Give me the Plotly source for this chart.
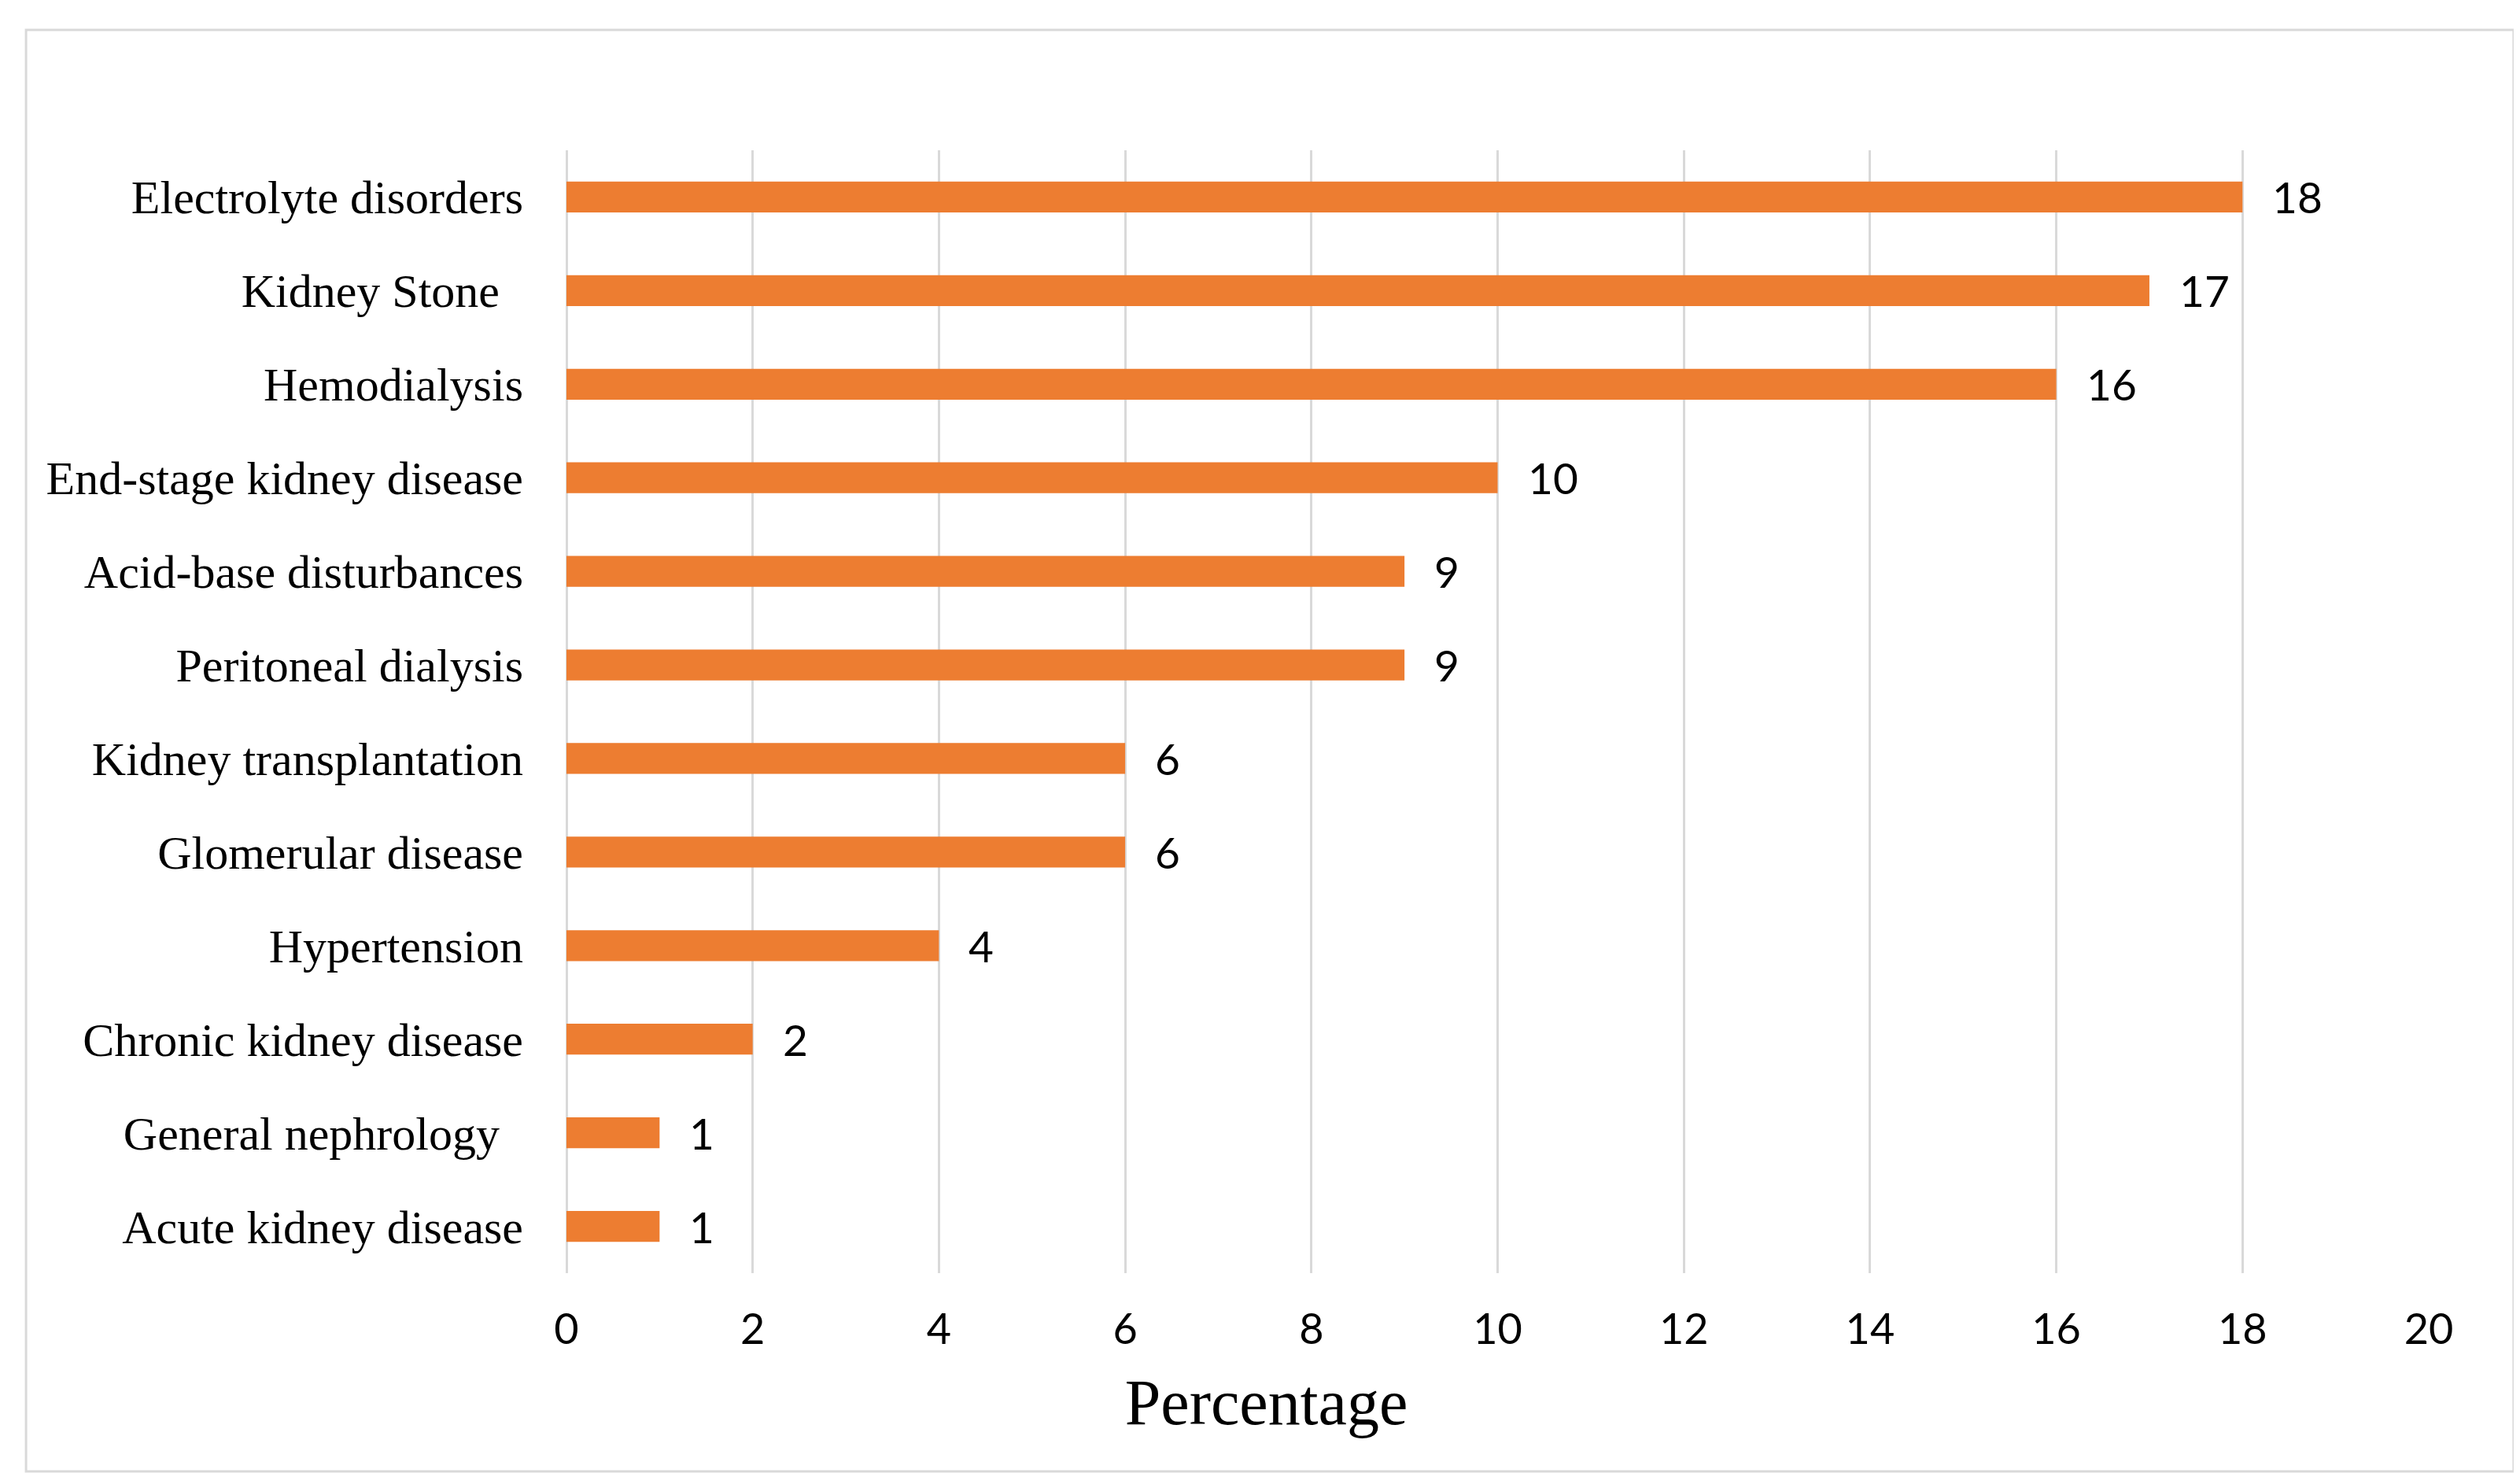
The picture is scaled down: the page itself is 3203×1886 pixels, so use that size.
import plotly.graph_objects as go

categories = [
    "Electrolyte disorders",
    "Kidney Stone ",
    "Hemodialysis",
    "End-stage kidney disease",
    "Acid-base disturbances",
    "Peritoneal dialysis",
    "Kidney transplantation",
    "Glomerular disease",
    "Hypertension",
    "Chronic kidney disease",
    "General nephrology ",
    "Acute kidney disease",
]
percentages = [18, 17, 16, 10, 9, 9, 6, 6, 4, 2, 1, 1]
x_ticks = [0, 2, 4, 6, 8, 10, 12, 14, 16, 18, 20]
x_title = "Percentage"

BAR_COLOR = "#ED7D31"
GRID = "#D9D9D9"
SERIF = "Liberation Serif, Times New Roman, serif"
SANS = "Lato, Carlito, Calibri, sans-serif"

# keep trailing spaces visible in tick labels (SVG collapses normal spaces)
shown_labels = [c.rstrip() + ("\u00a0\u00a0" if c.endswith(" ") else "") for c in categories]

fig = go.Figure()
fig.add_trace(go.Bar(
    x=percentages,
    y=shown_labels,
    orientation="h",
    marker=dict(color=BAR_COLOR, line=dict(width=0)),
    hoverinfo="x+y",
))

for cat, val in zip(shown_labels, percentages):
    fig.add_annotation(
        x=val, y=cat, xref="x", yref="y",
        text=str(val), showarrow=False,
        xanchor="left", yanchor="middle", xshift=36, yshift=0,
        font=dict(family=SANS, size=55, color="#000000"),
    )

# outer chart border
fig.add_shape(
    type="rect", xref="paper", yref="paper",
    x0=-0.2902, x1=1.0456, y0=-0.1766, y1=1.1072,
    line=dict(color=GRID, width=3), fillcolor="rgba(0,0,0,0)", layer="below",
)

fig.update_layout(
    width=3203, height=1886,
    margin=dict(l=712, r=124, t=183, b=276),
    paper_bgcolor="white", plot_bgcolor="white",
    bargap=0.67,
    showlegend=False,
    title=dict(
        text=x_title, x=0.5, xref="container", xanchor="center",
        y=0.06, yref="container", yanchor="middle",
        font=dict(family=SERIF, size=82, color="#000000"),
    ),
    xaxis=dict(
        range=[0, 20], tickvals=x_ticks, ticktext=[str(t) for t in x_ticks],
        showgrid=True, gridcolor=GRID, gridwidth=3,
        zeroline=True, zerolinecolor=GRID, zerolinewidth=3,
        showline=False, ticks="",
        ticklabelstandoff=35,
        tickfont=dict(family=SANS, size=54, color="#000000"),
        fixedrange=True,
    ),
    yaxis=dict(
        categoryorder="array", categoryarray=shown_labels,
        autorange="reversed",
        showgrid=False, zeroline=False, showline=False, ticks="",
        ticklabelstandoff=54,
        tickfont=dict(family=SERIF, size=60, color="#000000"),
        fixedrange=True,
    ),
)

fig.write_html("out.html")
